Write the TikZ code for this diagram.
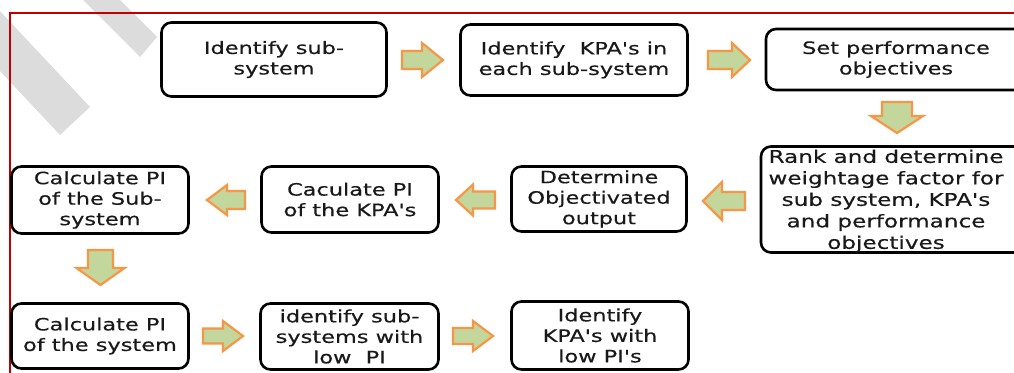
\documentclass[tikz,border=0pt]{standalone}
\usepackage{fontspec}
\newfontfamily\boxfont[FakeStretch=1.32,FakeBold=0.4]{DejaVu Sans}
\usetikzlibrary{calc}
\definecolor{arrfill}{HTML}{C3D69B}
\definecolor{arrline}{HTML}{F79646}
\definecolor{framered}{HTML}{C00000}
\definecolor{stripegrey}{HTML}{DCDCDC}
\tikzset{
  box/.style={draw=black, line width=2.6pt, rounded corners=10pt, fill=white, align=center,
    font=\boxfont\fontsize{17}{20.5}\selectfont, inner sep=0pt, text=black!90},
  boxtext/.style={align=center, font=\boxfont\fontsize{17}{20.5}\selectfont, inner sep=0pt, text=black!90},
  blk/.style={fill=arrfill, draw=arrline, line width=2.2pt, line join=miter},
  stripe/.style={fill=stripegrey},
  frameline/.style={draw=framered, line width=1.5pt},
  pics/harrow/.style args={#1/#2/#3/#4}{code={\draw[blk] (0,-#3)--(#2,-#3)--(#2,-#4)--(#1,0)--(#2,#4)--(#2,#3)--(0,#3)--cycle;}},
  pics/varrow/.style args={#1/#2/#3/#4}{code={\draw[blk] (-#3,0)--(-#3,#2)--(-#4,#2)--(0,#1)--(#4,#2)--(#3,#2)--(#3,0)--cycle;}},
}
\begin{document}
\begin{tikzpicture}[x=1pt,y=-1pt]
\useasboundingbox (0,0) rectangle (1014,372);
% grey diagonal stripes
\fill[stripe] (-47,-39) -- (90,107) -- (60,135) -- (-77,-11) -- cycle;
\fill[stripe] (57,-63) -- (157,37) -- (140,57) -- (40,-43) -- cycle;
% red frame
\draw[frameline] (10,380) -- (10,13) -- (1020,13);
% boxes
\node[box, minimum width=225pt, minimum height=74pt] (s1) at (274,59.5) {Identify sub-\\system};
\node[box, minimum width=227pt, minimum height=71pt] (s2) at (574,60) {Identify\ \ KPA's in\\each sub-system};
% boxes running past the right edge
\node[box, minimum width=280pt, minimum height=61pt] (s3) at (906,59.5) {};
\node[boxtext] (s3t) at (896,59.5) {Set performance\\objectives};
\node[box, minimum width=280pt, minimum height=106pt] (s4) at (901,199.5) {};
\node[boxtext, font=\boxfont\fontsize{17.5}{21.5}\selectfont] (s4t) at (886,201) {Rank and determine\\weightage factor for\\sub system, KPA's\\and performance\\objectives};
\node[box, minimum width=175pt, minimum height=65pt] (s5) at (599,199) {Determine\\Objectivated\\output};
\node[box, minimum width=177pt, minimum height=66pt] (s6) at (350,199.5) {Caculate PI\\of the KPA's};
\node[box, minimum width=177pt, minimum height=67pt] (s7) at (100,200) {Calculate PI\\of the Sub-\\system};
\node[box, minimum width=177pt, minimum height=65pt] (s8) at (100,336) {Calculate PI\\of the system};
\node[box, minimum width=178pt, minimum height=66pt] (s9) at (349.5,336.5) {identify sub-\\systems with\\low\ \ PI};
\node[box, minimum width=177pt, minimum height=68pt] (s10) at (600,335.5) {Identify\\KPA's with\\low PI's};
% block arrows
\pic at (402,60) {harrow=41/20/9/17};
\pic at (708,60) {harrow=42/24/9/17};
\pic at (897,102) {varrow=31/14/15/26};
\pic[xscale=-1] at (745,201) {harrow=42/23/9/19};
\pic[xscale=-1] at (495,200) {harrow=39/22/8.5/15.5};
\pic[xscale=-1] at (245,200) {harrow=38/18/9/15};
\pic at (100.5,250) {varrow=35/18/12.5/24};
\pic at (203,336) {harrow=40/20/7.5/15};
\pic at (453,336) {harrow=40/20/8/15};
\end{tikzpicture}
\end{document}
